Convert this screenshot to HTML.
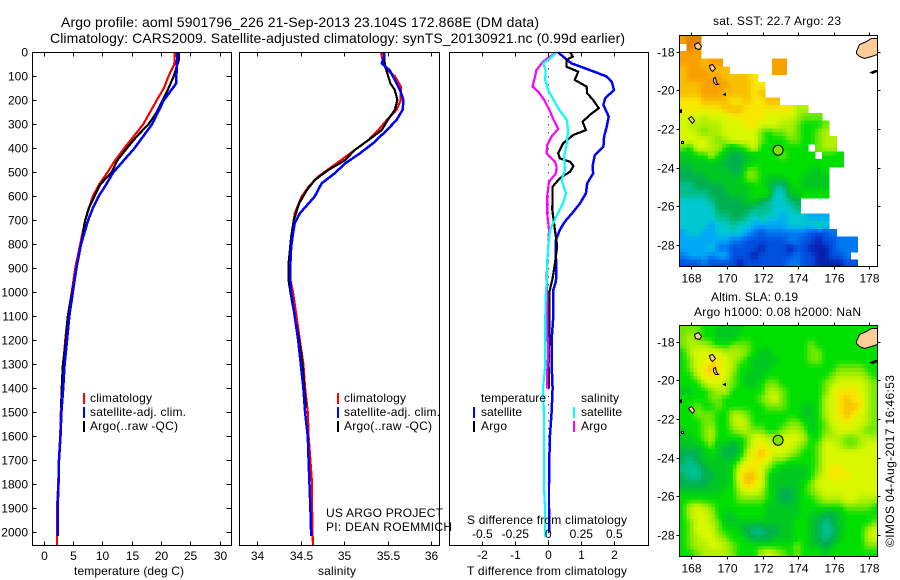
<!DOCTYPE html>
<html lang="en">
<head>
<meta charset="utf-8">
<title>Argo profile</title>
<style>
html,body{margin:0;padding:0;background:#fff;}
svg{display:block;}
text{font-family:"Liberation Sans",sans-serif;font-size:12px;fill:#000;}
.t{font-size:14px;}
.c{shape-rendering:crispEdges;}
</style>
</head>
<body>
<svg id="chart" width="900" height="580" viewBox="0 0 900 580" xmlns="http://www.w3.org/2000/svg">
<rect width="900" height="580" fill="#fff"/>
<text class="t" x="61" y="27" textLength="478">Argo profile: aoml 5901796_226 21-Sep-2013 23.104S 172.868E (DM data)</text>
<text class="t" x="50" y="43" textLength="575">Climatology: CARS2009. Satellite-adjusted climatology: synTS_20130921.nc (0.99d earlier)</text>
<g id="plots"></g>

<text x="74" y="575" textLength="110">temperature (deg C)</text>
<text x="318" y="575" textLength="38">salinity</text>
<text x="467" y="575" textLength="160">T difference from climatology</text>
<text x="467" y="524" textLength="160">S difference from climatology</text>

<g>
<rect class="c" x="83" y="393" width="2" height="11" fill="#f00"/>
<rect class="c" x="83" y="407" width="2" height="11" fill="#00f"/>
<rect class="c" x="83" y="421" width="2" height="11" fill="#000"/>
<text x="90" y="402" textLength="62">climatology</text>
<text x="90" y="416" textLength="96">satellite-adj. clim.</text>
<text x="90" y="430" textLength="88">Argo(..raw -QC)</text>
</g>
<g>
<rect class="c" x="337" y="393" width="2" height="11" fill="#f00"/>
<rect class="c" x="337" y="407" width="2" height="11" fill="#00f"/>
<rect class="c" x="337" y="421" width="2" height="11" fill="#000"/>
<text x="344" y="402" textLength="62">climatology</text>
<text x="344" y="416" textLength="96">satellite-adj. clim.</text>
<text x="344" y="430" textLength="88">Argo(..raw -QC)</text>
</g>
<g>
<text x="481" y="402" textLength="65">temperature</text>
<text x="581" y="402" textLength="38">salinity</text>
<rect class="c" x="473" y="407" width="2" height="11" fill="#00f"/>
<rect class="c" x="473" y="421" width="2" height="11" fill="#000"/>
<rect class="c" x="573" y="407" width="2" height="11" fill="#0ff"/>
<rect class="c" x="573" y="421" width="2" height="11" fill="#f0f"/>
<text x="481" y="416" textLength="41">satellite</text>
<text x="481" y="430" textLength="26">Argo</text>
<text x="581" y="416" textLength="41">satellite</text>
<text x="581" y="430" textLength="26">Argo</text>
</g>
<text x="326" y="517" textLength="117">US ARGO PROJECT</text>
<text x="326" y="531" textLength="126">PI: DEAN ROEMMICH</text>

<text x="713" y="25" textLength="128">sat. SST: 22.7 Argo: 23</text>
<text x="711" y="301" textLength="87">Altim. SLA: 0.19</text>
<text x="694" y="316" textLength="167">Argo h1000: 0.08 h2000: NaN</text>
<text transform="translate(894,547) rotate(-90)" x="0" y="0" textLength="172">©IMOS 04-Aug-2017 16:46:53</text>
</svg>

<script>
// ---------- axis tick values ----------
const depthTicks = [0,100,200,300,400,500,600,700,800,900,1000,1100,1200,1300,1400,1500,1600,1700,1800,1900,2000];
const tempTicks = [0,5,10,15,20,25,30];
const salTicks = [34,34.5,35,35.5,36];
const salTickLabels = ['34','34.5','35','35.5','36'];
const tDiffTicks = [-2,-1,0,1,2];
const tDiffLabels = ['-2','-1','0','1','2'];
const sDiffTicks = [-0.5,-0.25,0,0.25,0.5];
const sDiffLabels = ['-0.5','-0.25','0','0.25','0.5'];
const lonTicks = [168,170,172,174,176,178];
const latTicks = [18,20,22,24,26,28];
const latTickLabels = ['-18','-20','-22','-24','-26','-28'];

// ---------- temperature profiles (deg C) ----------
const tempClimDepth = [0,50,100,150,200,300,400,450,500,550,600,700,800,900,1000,1100,1200,1300,1400,1500,1600,1700,1800,1900,2000,2055];
const tempClim = [22.4,22.3,21.3,20.5,19.3,17.0,13.75,12.2,10.9,9.5,8.4,7.1,6.25,5.4,4.8,4.15,3.7,3.4,3.2,2.95,2.85,2.6,2.5,2.3,2.3,2.3];
const tempSatDepth = [0,130,150,200,300,400,500,550,600,650,700,800,900,1000,1100,1200,1300,1400,1500,1600,1700,1800,1900,2015];
const tempSat = [22.8,22.6,22.0,20.5,18.5,15.5,11.9,10.7,9.4,8.4,7.6,6.4,5.6,5,4.4,4,3.6,3.35,3.05,2.9,2.65,2.55,2.4,2.4];
const tempArgoDepth = [0,30,100,150,200,250,300,350,400,450,500,550,600,650,700,800,900,1000,1100,1200,1300,1400,1480];
const tempArgo = [23.1,23.1,22.2,21.3,20.3,19.3,17.9,15.9,14.2,12.6,11.6,9.7,8.7,7.7,7.1,6.4,5.6,4.9,4.15,3.8,3.3,3.1,3.0];

// ---------- salinity profiles ----------
const salClimDepth = [0,46,74,100,143,199,240,282,324,365,407,463,518,560,601,671,740,810,879,949,1000,1100,1200,1300,1400,1500,1600,1700,1800,1900,2000,2055];
const salClim = [35.42,35.45,35.5,35.58,35.65,35.65,35.6,35.49,35.39,35.28,35.12,34.91,34.7,34.59,34.51,34.43,34.41,34.38,34.38,34.38,34.41,34.45,34.49,34.53,34.55,34.58,34.59,34.61,34.63,34.63,34.635,34.64];
const salSatDepth = [0,18,46,74,115,157,199,240,282,324,379,421,463,504,546,601,671,712,754,810,879,949,1000,1100,1200,1300,1400,1500,1600,1700,1800,1900,2015];
const salSat = [35.45,35.46,35.43,35.52,35.58,35.64,35.68,35.67,35.6,35.49,35.33,35.18,35.01,34.89,34.74,34.66,34.49,34.43,34.41,34.39,34.38,34.38,34.39,34.43,34.47,34.5,34.53,34.55,34.58,34.59,34.6,34.61,34.62];
const salArgoDepth = [0,32,60,94,129,157,199,240,282,324,365,407,449,490,532,574,629,699,768,879,949,1000,1100,1200,1300,1400,1480];
const salArgo = [35.46,35.46,35.47,35.5,35.53,35.58,35.61,35.58,35.5,35.43,35.28,35.12,35.01,34.82,34.66,34.57,34.48,34.42,34.39,34.36,34.36,34.38,34.43,34.48,34.52,34.54,34.56];

// ---------- differences from climatology ----------
const dTSatDepth = [0,18,46,74,101,122,157,192,219,268,310,351,393,428,476,504,546,588,629,664,706,740,782,851,907,955,990,1100,1200,1300,1400,1500,1600,1700,1800,1900,2000];
const dTSat = [0.3,0.45,0.7,1.26,1.77,1.92,1.99,1.72,1.67,1.83,1.77,1.69,1.67,1.41,1.34,1.36,1.18,1.14,0.96,0.76,0.5,0.35,0.23,0.23,0.25,0.23,0.15,0.15,0.1,0.1,0.13,0.1,0.05,0.03,0.02,0.02,0.03];
const dTArgoDepth = [0,18,32,60,81,115,143,171,199,233,261,289,324,344,379,421,442,456,474,497,525,560,657,740,810,879,942,1000,1100,1200,1300,1400];
const dTArgo = [0.66,0.74,0.55,0.55,0.91,0.8,1.16,1.18,1.36,1.53,1.26,1.04,1.14,0.76,0.45,0.3,0.35,0.66,0.76,0.66,0.35,0.13,0.12,0.2,0.27,0.2,0.13,0.03,0.03,0.03,0.01,0.02];
const dSSatDepth = [0,25,46,74,115,157,199,240,282,324,379,435,490,532,588,629,685,740,810,879,942,1000,1100,1200,1300,1400,1500,1600,1700,1800,1900,2020];
const dSSat = [0.063,0.013,-0.04,-0.02,-0.025,0,0.04,0.083,0.14,0.15,0.14,0.12,0.126,0.1,0.134,0.11,0.06,0.013,0,-0.01,-0.01,-0.018,-0.023,-0.023,-0.023,-0.04,-0.033,-0.033,-0.033,-0.033,-0.025,-0.025];
const dSArgoDepth = [0,18,39,74,101,143,164,199,240,282,319,351,386,421,456,476,504,539,601,671,740,810,879,942,1000,1140,1250,1330,1400];
const dSArgo = [0.063,0.013,-0.04,-0.09,-0.1,-0.12,-0.076,-0.03,0.008,0.04,0.076,0.025,-0.008,-0.013,0.05,0.063,0.058,0.005,-0.008,-0.008,0.005,0,-0.008,-0.013,-0.008,-0.008,0,-0.008,-0.008];

// ---------- map grids: colour level per 0.4 deg cell, 0 = no data ----------
const sstLevels = [
[15,16,16,0,0,0,0,0,0,0,0,0,0,0,0,0,0,0,0,0,0,0,0,0,0,0,0,0],
[0,16,15,0,0,0,0,0,0,0,0,0,0,0,0,0,0,0,0,0,0,0,0,0,0,0,0,0],
[15,15,15,0,0,0,0,0,0,0,0,0,0,0,0,0,0,0,0,0,0,0,0,0,0,0,0,0],
[15,15,15,14,15,15,0,0,0,0,0,0,0,15,15,0,0,0,0,0,0,0,0,0,0,0,0,0],
[14,15,15,15,14,14,14,0,0,0,0,0,0,15,15,0,0,0,0,0,0,0,0,0,0,0,0,0],
[14,15,15,15,15,15,14,14,14,14,13,0,0,0,0,0,0,0,0,0,0,0,0,0,0,0,0,0],
[14,14,14,15,15,15,15,14,14,14,13,13,0,0,0,0,0,0,0,0,0,0,0,0,0,0,0,0],
[14,14,14,15,15,15,14,14,14,14,13,14,0,0,0,0,0,0,0,0,0,0,0,0,0,0,0,0],
[13,13,13,14,14,14,14,13,13,14,13,13,14,14,0,0,0,0,0,0,0,0,0,0,0,0,0,0],
[13,13,13,13,13,13,14,14,14,13,13,13,13,13,13,13,11,11,0,0,0,0,0,0,0,0,0,0],
[12,12,12,11,12,12,12,13,13,13,13,13,12,12,12,12,11,10,10,10,0,0,0,0,0,0,0,0],
[12,11,11,11,11,11,12,12,12,13,13,12,12,12,11,11,10,9,9,9,10,0,0,0,0,0,0,0],
[12,12,11,10,11,11,12,12,12,12,12,10,9,10,10,11,10,9,9,10,11,0,0,0,0,0,0,0],
[12,12,12,12,11,10,11,12,12,12,12,10,9,9,9,10,10,9,9,10,11,11,0,0,0,0,0,0],
[10,9,12,12,11,11,9,8,9,10,12,9,9,9,9,9,9,9,0,10,11,11,0,0,0,0,0,0],
[8,8,9,9,11,9,8,7,7,8,8,9,9,9,10,9,9,9,9,0,9,9,9,0,0,0,0,0],
[8,8,8,8,8,8,7,7,7,8,9,9,9,9,9,9,9,9,9,9,9,9,9,0,0,0,0,0],
[7,7,8,8,8,8,8,7,7,10,10,9,9,9,9,9,9,9,8,8,9,0,0,0,0,0,0,0],
[7,7,7,7,8,8,8,8,8,10,10,9,8,8,8,9,9,8,8,8,8,0,0,0,0,0,0,0],
[6,6,7,7,7,7,8,8,8,8,9,9,8,6,6,8,9,8,8,8,8,0,0,0,0,0,0,0],
[6,6,6,6,7,7,7,8,8,8,9,9,9,5,5,8,8,9,9,9,9,0,0,0,0,0,0,0],
[5,5,5,5,6,7,7,7,7,8,8,7,6,5,5,6,7,0,0,0,0,0,0,0,0,0,0,0],
[5,5,5,5,5,7,7,7,7,7,6,6,6,5,5,5,6,0,0,0,0,0,0,0,0,0,0,0],
[5,5,5,5,5,6,6,7,7,6,5,6,5,5,4,5,5,5,4,4,4,0,0,0,0,0,0,0],
[5,5,5,5,4,5,5,6,5,5,4,4,4,4,4,5,5,5,5,6,5,0,0,0,0,0,0,0],
[4,5,5,4,4,5,5,5,5,4,3,2,3,3,3,3,3,3,2,2,2,3,0,0,0,0,0,0],
[4,4,4,4,4,4,4,3,3,2,2,2,2,2,2,3,3,2,2,1,2,2,3,3,3,0,0,0],
[4,4,4,4,5,3,3,2,2,2,2,1,2,2,2,1,2,2,1,1,1,2,3,3,3,0,0,0],
[3,4,4,4,3,4,4,2,2,2,1,2,2,2,2,2,3,2,2,1,1,2,2,3,0,0,0,0],
[2,2,2,3,2,2,2,2,1,2,2,2,2,2,2,3,3,2,2,1,1,1,1,2,2,0,0,0]
];
const slaLevels = [
[10,10,10,9,9,8,8,8,8,9,9,9,9,9,9,9,9,9,9,9,9,9,9,9,9,9,9,9],
[10,11,10,9,9,8,8,8,9,9,9,9,9,9,9,9,9,9,9,9,9,9,9,9,9,9,9,9],
[10,11,11,11,10,9,9,10,10,10,9,9,9,9,9,9,9,9,10,9,9,9,9,9,9,9,9,9],
[9,11,12,12,12,12,11,11,11,10,9,8,8,9,9,9,9,9,10,10,9,9,9,9,9,9,9,9],
[9,10,12,12,13,13,12,11,10,9,8,8,8,8,9,9,9,9,10,10,9,9,9,9,9,9,9,9],
[9,10,12,13,14,13,12,11,9,9,8,8,8,9,9,9,9,9,9,9,9,9,10,10,10,10,9,9],
[9,9,11,13,13,13,12,10,9,8,8,8,9,9,9,9,9,9,9,9,9,10,11,11,11,11,10,9],
[9,9,9,11,12,12,11,10,9,8,8,9,10,10,9,9,9,9,9,9,10,11,12,12,12,12,11,10],
[8,8,9,9,10,11,11,9,9,9,9,9,11,11,10,9,9,9,9,9,10,12,13,13,13,12,11,10],
[9,9,9,9,10,10,9,9,9,9,9,10,11,12,10,9,9,9,9,9,11,12,13,14,13,13,11,10],
[9,9,10,9,9,10,9,9,9,9,9,9,10,10,10,9,9,8,8,9,11,12,13,14,14,13,11,10],
[9,9,10,10,10,9,9,11,11,10,9,9,9,9,9,9,9,8,8,9,11,12,13,14,13,12,11,10],
[9,9,9,10,10,9,9,11,12,11,9,9,9,9,9,10,10,9,8,9,10,12,12,13,12,12,11,10],
[8,9,9,10,11,9,9,10,11,11,10,10,9,9,10,11,11,10,8,9,10,11,12,12,12,11,10,10],
[8,8,9,10,11,9,9,9,9,10,12,12,11,11,12,12,12,11,9,9,11,11,11,10,10,11,11,11],
[8,8,8,9,10,8,8,7,8,10,12,13,12,12,12,12,11,10,9,10,12,12,11,10,10,11,12,12],
[7,7,7,8,9,8,7,7,8,11,13,14,13,12,12,11,10,9,9,10,12,12,12,12,12,12,12,12],
[7,6,7,8,8,8,8,8,10,12,13,13,12,10,10,9,9,9,9,10,12,12,12,12,12,12,12,12],
[6,6,6,7,8,8,8,9,12,13,13,12,10,9,8,8,8,8,9,10,12,13,13,12,12,12,12,12],
[7,6,6,7,7,8,8,9,13,14,14,12,9,8,8,8,8,8,9,11,12,13,13,13,12,12,12,12],
[7,7,7,7,8,8,8,9,12,14,13,12,9,8,8,8,8,9,10,12,12,12,12,12,12,12,12,12],
[8,8,8,8,8,8,9,9,11,12,12,11,9,8,7,7,8,9,10,11,12,12,12,12,12,12,12,12],
[9,9,9,9,9,9,9,9,10,10,10,10,9,8,7,7,8,9,9,10,11,11,11,12,12,11,11,11],
[9,11,12,11,10,9,9,9,9,9,9,9,8,8,8,8,8,9,9,9,9,9,9,10,10,10,10,9],
[9,11,12,12,11,9,8,8,9,9,9,9,8,8,8,8,8,9,8,8,7,7,8,9,9,9,9,9],
[9,10,12,12,11,10,8,8,8,8,8,8,8,8,8,8,9,9,8,7,6,7,8,9,9,9,9,10],
[9,10,12,12,12,10,9,9,8,7,6,6,7,7,8,8,9,9,8,7,6,6,8,9,9,9,11,12],
[9,10,11,12,12,11,10,9,9,8,7,7,7,8,8,8,9,9,8,7,6,7,8,9,9,9,11,12],
[9,10,11,11,12,12,11,10,9,9,9,9,9,9,9,9,10,9,8,8,7,8,9,9,9,9,10,10],
[9,9,10,11,11,11,11,10,9,9,9,11,12,11,10,9,10,9,9,9,8,9,9,9,9,9,9,9]
];
const profileLon = 172.868;
const profileLat = 23.104;

// ---------- scales ----------
const yDepth = d => 52.3 + 0.24 * d;
const xTemp = v => 43.5 + 5.867 * v;
const xSal = v => 257.3 + 87 * (v - 34);
const xDT = v => 548.3 + 33 * v;
const xDS = v => 548.3 + 132 * v;

// colour stops for map levels 1..16
const paletteStops = [[8,32,176],[0,80,224],[0,120,240],[0,168,248],[0,200,208],[0,192,144],[0,176,80],[0,200,32],[0,224,0],[112,232,0],[176,240,0],[216,248,0],[248,232,0],[248,192,0],[248,160,0],[224,128,0]];
function levelColor(level) {
  const i = Math.min(Math.max(level - 1, 0), paletteStops.length - 1);
  const lo = Math.floor(i), hi = Math.min(lo + 1, paletteStops.length - 1), f = i - lo;
  const a = paletteStops[lo], b = paletteStops[hi];
  return 'rgb(' + a.map((v, k) => Math.round(v + (b[k] - v) * f)).join(',') + ')';
}

const NS = 'http://www.w3.org/2000/svg';
const root = document.getElementById('plots');
function make(tag, attrs, parent) {
  const e = document.createElementNS(NS, tag);
  for (const k in attrs) e.setAttribute(k, attrs[k]);
  parent.appendChild(e);
  return e;
}

function tick(parent, x1, y1, x2, y2) {
  const t = make('line', {x1: x1, y1: y1, x2: x2, y2: y2, stroke: '#000', 'stroke-width': 1, class: 'c'}, parent);
  
  
}
function label(parent, x, y, str, anchor) {
  const t = make('text', {x: x, y: y, 'text-anchor': anchor}, parent);
  t.textContent = str;
  
  
}
function box(parent, x1, y1, x2, y2) {
  const r = make('rect', {x: x1, y: y1, width: x2 - x1, height: y2 - y1, fill: 'none', stroke: '#000', 'stroke-width': 1, class: 'c'}, parent);
  
  
}
function series(parent, name, xs, depths, scale, color, width) {
  const pts = xs.map((v, i) => scale(v).toFixed(1) + ',' + yDepth(depths[i]).toFixed(1)).join(' ');
  const p = make('polyline', {points: pts, fill: 'none', stroke: color, 'stroke-width': width, class: 'c'}, parent);
  
  
}

const T = 52.5, B = 545.5;

// ---------- temperature panel ----------
const p1 = make('g', {}, root);


series(p1, 'temperature-climatology-line', tempClim, tempClimDepth, xTemp, '#f00', 2.2);
series(p1, 'temperature-argo-line', tempArgo, tempArgoDepth, xTemp, '#000', 2.2);
series(p1, 'temperature-satellite-line', tempSat, tempSatDepth, xTemp, '#00f', 2.5);
box(p1, 32.5, T, 231.5, B);
depthTicks.forEach(d => {
  const y = Math.floor(yDepth(d)) + 0.5;
  tick(p1, 32.5, y, 36.5, y);
  tick(p1, 226.5, y, 231.5, y);
  label(p1, 28, y + 4, String(d), 'end');
});
tempTicks.forEach(v => {
  const x = Math.round(xTemp(v)) + 0.5;
  tick(p1, x, T, x, T + 4);
  tick(p1, x, B, x, B - 4);
  label(p1, x, 560, String(v), 'middle');
});

// ---------- salinity panel ----------
const p2 = make('g', {}, root);


series(p2, 'salinity-climatology-line', salClim, salClimDepth, xSal, '#f00', 2.2);
series(p2, 'salinity-argo-line', salArgo, salArgoDepth, xSal, '#000', 2.2);
series(p2, 'salinity-satellite-line', salSat, salSatDepth, xSal, '#00f', 2.5);
box(p2, 239.5, T, 439.5, B);
salTicks.forEach((v, i) => {
  const x = Math.round(xSal(v)) + 0.5;
  tick(p2, x, T, x, T + 4);
  tick(p2, x, B, x, B - 4);
  label(p2, x, 560, salTickLabels[i], 'middle');
});

// ---------- difference panel ----------
const p3 = make('g', {}, root);


const zero = make('line', {x1: 548.5, y1: yDepth(0), x2: 548.5, y2: yDepth(2050), stroke: '#000', 'stroke-width': 1, 'stroke-dasharray': '1 7'}, p3);


series(p3, 't-diff-satellite-line', dTSat, dTSatDepth, xDT, '#00f', 2.5);
series(p3, 't-diff-argo-line', dTArgo, dTArgoDepth, xDT, '#000', 2.2);
series(p3, 's-diff-argo-line', dSArgo, dSArgoDepth, xDS, '#f0f', 2.2);
series(p3, 's-diff-satellite-line', dSSat, dSSatDepth, xDS, '#0ff', 2.2);
box(p3, 449.5, T, 648.5, B);
tDiffTicks.forEach((v, i) => {
  const x = Math.round(xDT(v)) + 0.5;
  tick(p3, x, T, x, T + 4);
  tick(p3, x, B, x, B - 4);
  label(p3, x, 559, tDiffLabels[i], 'middle');
});
sDiffTicks.forEach((v, i) => {
  label(p3, xDS(v), 538, sDiffLabels[i], 'middle');
});

// ---------- maps ----------
// Each grid value is drawn as four sub-cells shaded towards its neighbours.
function subLevel(grid, r, c, dr, dc) {
  const own = grid[r][c];
  const rowN = grid[r + dr] || [];
  const a = (grid[r][c + dc] || own);
  const b = (rowN[c] || own);
  const d = (rowN[c + dc] || own);
  return 0.5625 * own + 0.1875 * a + 0.1875 * b + 0.0625 * d;
}
function drawMap(name, grid, top, bottom) {
  const L = 679.5, R = 877.5;
  const pxPerLon = 17.8;
  const pxPerLat = (bottom - top) / 11.95;
  const xLon = lon => L + (lon - 167.33) * pxPerLon;
  const yLat = lat => top + (lat - 17.17) * pxPerLat;
  const cw = 0.2 * pxPerLon;
  const ch = 0.2 * pxPerLat;
  const clipId = name + '-clip';
  const g = make('g', {}, root);
  
  
  const defs = make('clipPath', {id: clipId}, g);
  make('rect', {x: L, y: top, width: R - L, height: bottom - top}, defs);
  const cells = make('g', {'clip-path': 'url(#' + clipId + ')'}, g);
  grid.forEach((row, r) => {
    row.forEach((level, c) => {
      if (!level) return;
      [0, 1].forEach(sr => {
        [0, 1].forEach(sc => {
          const x = xLon(167.33 + 0.4 * c + 0.2 * sc);
          const y = yLat(17.17 + 0.4 * r + 0.2 * sr);
          const shade = subLevel(grid, r, c, sr ? 1 : -1, sc ? 1 : -1);
          const cell = make('rect', {x: x.toFixed(1), y: y.toFixed(1), width: (cw + 0.6).toFixed(1), height: (ch + 0.6).toFixed(1), fill: levelColor(shade), class: 'c'}, cells);
          
          
        });
      });
    });
  });
  // coastlines
  const land = make('g', {transform: 'translate(' + L + ',' + top + ')', fill: '#ffcc99', stroke: '#000', 'stroke-width': 1}, cells);
  
  
  make('polygon', {points: '177,16 180,9 187,6 192,3 198,3 198,19 192,21 185,23 180,21 177,18'}, land);
  make('polygon', {points: '15,9 19,7 22,11 20,14 16,13'}, land);
  make('polygon', {points: '30,30 33,29 36,33 33,36 31,34'}, land);
  make('polygon', {points: '34,43 36,42 37,47 39,49 36,49 34,46'}, land);
  make('polygon', {points: '9,83 12,81 15,85 13,88'}, land);
  make('polygon', {points: '44,59 46,58 46,60'}, land);
  make('polygon', {points: '2,106 4,106 4,108 2,108'}, land);
  make('polygon', {points: '0,75 2,74 2,77 0,77', fill: '#000'}, land);
  make('polygon', {points: '191,37 196,35 198,35 198,36 193,38', fill: '#000'}, land);
  box(g, L, top, R, bottom);
  const dot = make('circle', {cx: xLon(profileLon).toFixed(1), cy: yLat(profileLat).toFixed(1), r: 5, fill: '#80e000', stroke: '#000', 'stroke-width': 1}, g);
  
  
  lonTicks.forEach(lon => {
    const x = Math.round(xLon(lon)) + 0.5;
    tick(g, x, top - 3, x, top);
    tick(g, x, bottom, x, bottom + 3);
    label(g, x, bottom + 16, String(lon), 'middle');
  });
  latTicks.forEach((lat, i) => {
    const y = Math.round(yLat(lat)) + 0.5;
    tick(g, L - 3, y, L, y);
    tick(g, R, y, R + 3, y);
    label(g, L - 5, y + 4, latTickLabels[i], 'end');
  });
}
drawMap('sst-map', sstLevels, 35.5, 266.5);
drawMap('sla-map', slaLevels, 325.5, 556.5);
</script>
</body>
</html>
